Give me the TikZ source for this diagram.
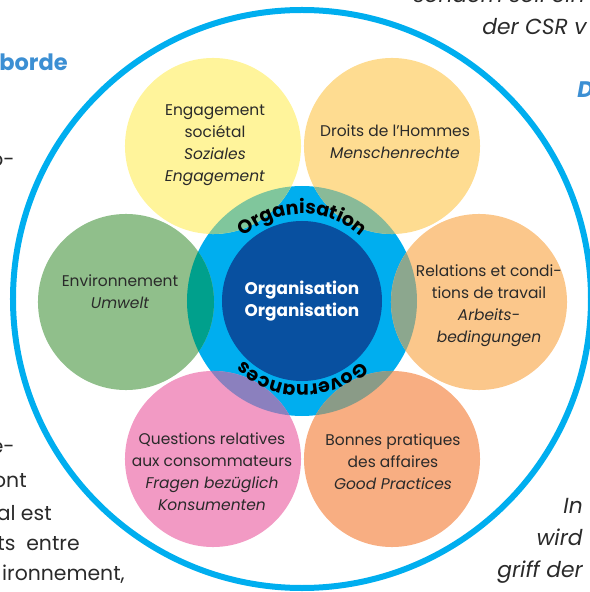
\documentclass[tikz,border=0pt]{standalone}
\usepackage{fontspec}
\setmainfont{Poppins}
\usetikzlibrary{decorations.text}

\definecolor{ringBlue}{HTML}{00AEEF}
\definecolor{coreBlue}{HTML}{0850A0}
\definecolor{engageYellow}{HTML}{FFF49B}
\definecolor{droitsGold}{HTML}{FEDC91}
\definecolor{relationsApricot}{HTML}{FBC78B}
\definecolor{bonnesSalmon}{HTML}{F8AE82}
\definecolor{questionsPink}{HTML}{F29AC4}
\definecolor{umweltGreen}{HTML}{90BF8B}
\definecolor{engageLens}{HTML}{80C69C}
\definecolor{droitsLens}{HTML}{89BA98}
\definecolor{relationsLens}{HTML}{8CA78E}
\definecolor{bonnesLens}{HTML}{8A9B87}
\definecolor{questionsLens}{HTML}{8B80BE}
\definecolor{umweltLens}{HTML}{00A08C}
\definecolor{pageText}{HTML}{2A2A2A}
\definecolor{headBlue}{HTML}{3C8FD3}

\newcommand\curvefont{\bfseries\fontsize{13.5}{13.5}\selectfont}
\def\lens(#1)[#2]{\begin{scope}\clip (0,0) circle (115);\fill[#2] (#1) circle (88);\end{scope}}

\tikzset{
  topic/.style={circle, minimum size=4.4cm, inner sep=0pt},
  topictext/.style={align=center, text=pageText, inner sep=0pt, font=\fontsize{11}{15.6}\selectfont},
  pagetext/.style={text=pageText, inner sep=0pt, font=\fontsize{14.5}{17}\selectfont},
  sidetext/.style={pagetext, font=\itshape\fontsize{15.5}{17}\selectfont},
}

\begin{document}
\begin{tikzpicture}[x=0.025cm, y=0.025cm]
		%%%%% START %%%%%
		\useasboundingbox (-302,-291) rectangle (288,301);
		\clip (-302,-291) rectangle (288,301);
		
		% page text around the figure
		\node[pagetext, anchor=base east, text=headBlue, font=\bfseries\fontsize{16}{18}\selectfont] (borde) at (-234,230) {borde};
		\node[pagetext, anchor=base east] (leftA) at (-287,134) {o-};
		\node[pagetext, anchor=base east] (leftB) at (-287,-152) {e-};
		\node[pagetext, anchor=base east] (leftC) at (-275,-186) {ont};
		\node[pagetext, anchor=base east] (leftD) at (-250,-219) {al est};
		\node[pagetext, anchor=base east] (leftE) at (-222,-249) {ts\ \ entre};
		\node[pagetext, anchor=base east] (leftF) at (-177,-279) {ironnement,};
		\node[sidetext, anchor=base west] (rightA) at (111,298) {sondern soll ein};
		\node[sidetext, anchor=base west] (rightB) at (180,266) {der CSR v};
		\node[pagetext, anchor=base west, text=headBlue, font=\bfseries\itshape\fontsize{16}{18}\selectfont] (rightD) at (275,203) {D};
		\node[sidetext, anchor=base east] (rightE) at (281,-212) {In};
		\node[sidetext, anchor=base east] (rightF) at (281,-244) {wird};
		\node[sidetext, anchor=base east] (rightG) at (281,-276) {griff der};
		
		% big frame circle
		\draw[ringBlue, line width=0.15cm] (0,2) circle (289);
		
		% ring and topics
		\fill[ringBlue] (0,0) circle (115);
		\node[topic, fill=engageYellow] (engage) at (-89,155) {};
		\node[topic, fill=droitsGold] (droits) at (90,155) {};
		\node[topic, fill=umweltGreen] (umwelt) at (-176,-1) {};
		\node[topic, fill=relationsApricot] (relations) at (177,-1) {};
		\node[topic, fill=questionsPink] (questions) at (-89,-158) {};
		\node[topic, fill=bonnesSalmon] (bonnes) at (90,-158) {};
		
		\lens(engage)[engageLens]
		\lens(droits)[droitsLens]
		\lens(umwelt)[umweltLens]
		\lens(relations)[relationsLens]
		\lens(questions)[questionsLens]
		\lens(bonnes)[bonnesLens]
		
		\fill[coreBlue] (0,0) circle (80);
		\node[align=center, text=white, font=\bfseries\fontsize{12}{15.6}\selectfont] (core) at (0,0) {Organisation\\Organisation};
		
		% curved words on the ring
		\path[decorate, decoration={text along path, text={|\curvefont|Organisation}, text align=center}] (170:87) arc[start angle=170, end angle=10, radius=87];
		\path[decorate, decoration={text along path, text={|\curvefont|Governances}, text align=center}] (-10:84) arc[start angle=-10, end angle=-170, radius=84];
		
		% topic labels
		\node[topictext] (engageText) at ([shift={(2,1)}]engage.center) {Engagement\\sociétal\\\textit{Soziales}\\\textit{Engagement}};
		\node[topictext] (droitsText) at ([shift={(3,4)}]droits.center) {Droits de l'Hommes\\\textit{Menschenrechte}};
		\node[topictext] (umweltText) at ([shift={(-6,10)}]umwelt.center) {Environnement\\\textit{Umwelt}};
		\node[topictext] (relationsText) at ([shift={(10,-4)}]relations.center) {Relations et condi-\\tions de travail\\\textit{Arbeits-}\\\textit{bedingungen}};
		\node[topictext] (questionsText) at ([shift={(-1,-13)}]questions.center) {Questions relatives\\aux consommateurs\\\textit{Fragen bezüglich}\\\textit{Konsumenten}};
		\node[topictext] (bonnesText) at ([shift={(1,-3)}]bonnes.center) {Bonnes pratiques\\des affaires\\\textit{Good Practices}};
		
		%%%%% END %%%%%
	\end{tikzpicture}
\end{document}
